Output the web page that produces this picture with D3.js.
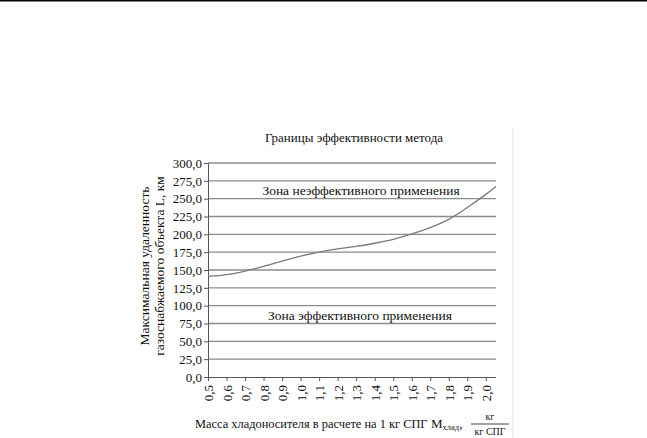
<!DOCTYPE html>
<html>
<head>
<meta charset="utf-8">
<script src="https://cdn.jsdelivr.net/npm/d3@7"></script>
<style>
  body { margin: 0; background: #fff; }
  svg { display: block; font-family: "Liberation Serif", "Times New Roman", serif; }
</style>
</head>
<body>
<svg id="svg"></svg>
<script>
// data
const massValues = [0.5, 0.6, 0.7, 0.8, 0.9, 1.0, 1.1, 1.2, 1.3, 1.4, 1.5, 1.6, 1.7, 1.8, 1.9, 2.0, 2.055];
const distanceValues = [141, 143.5, 148.5, 155, 162.5, 169.5, 175, 179.5, 183, 187.5, 193, 200.5, 209.5, 221, 237.5, 256, 267];
const xTickLabels = ["0,5", "0,6", "0,7", "0,8", "0,9", "1,0", "1,1", "1,2", "1,3", "1,4", "1,5", "1,6", "1,7", "1,8", "1,9", "2,0"];
const xTickValues = [0.5, 0.6, 0.7, 0.8, 0.9, 1.0, 1.1, 1.2, 1.3, 1.4, 1.5, 1.6, 1.7, 1.8, 1.9, 2.0];
const yTickValues = [0, 25, 50, 75, 100, 125, 150, 175, 200, 225, 250, 275, 300];

const svgWidth = 647;
const svgHeight = 438;
const plotLeft = 208, plotRight = 496, plotTop = 163, plotBottom = 377;

const svg = d3.select("svg")
    .attr("width", svgWidth)
    .attr("height", svgHeight);

// rule at the very top of the page
svg.append("line")
    .attr("x1", 0).attr("x2", svgWidth)
    .attr("y1", 0.8).attr("y2", 0.8)
    .attr("stroke", "#000").attr("stroke-width", 1.6);

// faint chart border (right edge only visible)
svg.append("line")
    .attr("x1", 513).attr("x2", 513)
    .attr("y1", 128).attr("y2", svgHeight)
    .attr("stroke", "#e4e4e4").attr("stroke-width", 1);

const x = d3.scaleLinear().domain([0.5, 2.055]).range([plotLeft, plotRight]);
const y = d3.scaleLinear().domain([0, 300]).range([plotBottom, plotTop]);

// gridlines
svg.append("g")
    .selectAll("line")
    .data(yTickValues.filter(d => d > 0))
    .enter()
    .append("line")
    .attr("x1", plotLeft).attr("x2", plotRight)
    .attr("y1", d => y(d)).attr("y2", d => y(d))
    .attr("stroke", "#8c8c8c").attr("stroke-width", 1.3);

// y axis
const yAxis = svg.append("g")
    .attr("transform", "translate(" + plotLeft + ",0)")
    .call(d3.axisLeft(y).tickValues(yTickValues).tickSize(4).tickFormat(d => d3.format(".1f")(d).replace(".", ",")));
yAxis.select(".domain").attr("stroke", "#555");
yAxis.selectAll(".tick line").attr("stroke", "#555");
yAxis.selectAll("text")
    .attr("font-family", "Liberation Serif")
    .attr("font-size", 13)
    .attr("fill", "#111")
    .attr("x", -6);

// x axis
const xAxis = svg.append("g")
    .attr("transform", "translate(0," + plotBottom + ")")
    .call(d3.axisBottom(x).tickValues(xTickValues).tickSize(4).tickFormat((d, i) => xTickLabels[i]));
xAxis.select(".domain").attr("stroke", "#555").attr("d", "M" + plotLeft + ",0.5H" + plotRight);
xAxis.selectAll(".tick line").attr("stroke", "#555");
xAxis.selectAll("text")
    .attr("font-family", "Liberation Serif")
    .attr("font-size", 13)
    .attr("fill", "#111")
    .attr("text-anchor", "end")
    .attr("dy", "0.35em")
    .attr("y", 0)
    .attr("transform", "translate(0,8) rotate(-90)");

// the boundary curve
const line = d3.line()
    .x((d, i) => x(massValues[i]))
    .y(d => y(d))
    .curve(d3.curveNatural);

svg.append("path")
    .datum(distanceValues)
    .attr("d", line)
    .attr("fill", "none")
    .attr("stroke", "#7a7a7a")
    .attr("stroke-width", 1.3);

// title
svg.append("text")
    .attr("x", 354).attr("y", 142)
    .attr("text-anchor", "middle")
    .attr("font-size", 13)
    .attr("fill", "#111")
    .text("Границы эффективности метода");

// zone labels
svg.append("text")
    .attr("x", 361).attr("y", 195)
    .attr("text-anchor", "middle")
    .attr("font-size", 13.5)
    .attr("fill", "#111")
    .text("Зона неэффективного применения");

svg.append("text")
    .attr("x", 360).attr("y", 320)
    .attr("text-anchor", "middle")
    .attr("font-size", 13.5)
    .attr("fill", "#111")
    .text("Зона эффективного применения");

// y axis title (two lines)
const yTitle = svg.append("text")
    .attr("transform", "translate(149,266) rotate(-90)")
    .attr("text-anchor", "middle")
    .attr("font-size", 13.5)
    .attr("fill", "#111");
yTitle.append("tspan").attr("x", 0).attr("dy", 0).text("Максимальная удаленность");
yTitle.append("tspan").attr("x", 0).attr("dy", 15).text("газоснабжаемого объекта L, км");

// x axis title
svg.append("text")
    .attr("x", 195).attr("y", 428)
    .attr("font-size", 12.4)
    .attr("fill", "#111")
    .text("Масса хладоносителя в расчете на 1 кг СПГ");

const mText = svg.append("text")
    .attr("x", 431).attr("y", 428)
    .attr("font-size", 13)
    .attr("fill", "#111");
mText.append("tspan").text("M");
mText.append("tspan").attr("font-size", 8.5).attr("dy", 2).text("хлад");
mText.append("tspan").attr("dy", -2).text(",");

svg.append("text")
    .attr("x", 490).attr("y", 420)
    .attr("text-anchor", "middle")
    .attr("font-size", 10)
    .attr("fill", "#111")
    .text("кг");
svg.append("line")
    .attr("x1", 471).attr("x2", 509)
    .attr("y1", 424).attr("y2", 424)
    .attr("stroke", "#111").attr("stroke-width", 0.8);
svg.append("text")
    .attr("x", 490).attr("y", 435)
    .attr("text-anchor", "middle")
    .attr("font-size", 10)
    .attr("fill", "#111")
    .text("кг СПГ");
</script>
</body>
</html>
